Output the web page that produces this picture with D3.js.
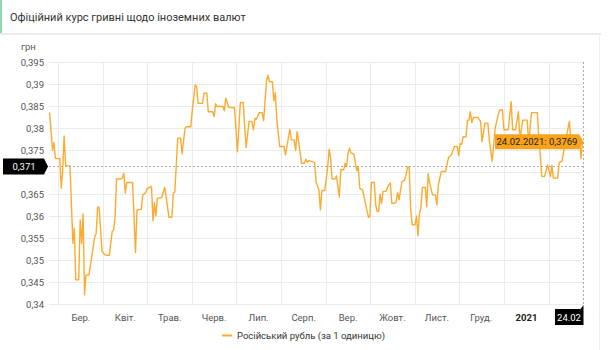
<!DOCTYPE html>
<html>
<head>
<meta charset="utf-8">
<script src="https://cdnjs.cloudflare.com/ajax/libs/d3/7.8.5/d3.min.js"></script>
<style>
  body { margin: 0; background: #fff; }
  svg { font-family: Roboto, "Noto Sans", sans-serif; }
</style>
</head>
<body>
<svg id="chart" width="611" height="350"></svg>
<script>
// rate of the russian rouble (UAH for 1 RUB)
const dates = [
  "2020-02-24","2020-02-26","2020-02-27","2020-02-28","2020-03-02","2020-03-03","2020-03-04","2020-03-05","2020-03-06","2020-03-09",
  "2020-03-11","2020-03-12","2020-03-13","2020-03-15","2020-03-16","2020-03-17","2020-03-18","2020-03-19","2020-03-20","2020-03-22",
  "2020-03-24","2020-03-26","2020-03-27","2020-03-28","2020-03-29","2020-03-31","2020-04-02","2020-04-05","2020-04-07","2020-04-08",
  "2020-04-09","2020-04-10","2020-04-13","2020-04-14","2020-04-15","2020-04-16","2020-04-17","2020-04-21","2020-04-23","2020-04-24",
  "2020-04-27","2020-04-28","2020-04-30","2020-05-01","2020-05-04","2020-05-05","2020-05-06","2020-05-07","2020-05-08","2020-05-11",
  "2020-05-13","2020-05-14","2020-05-16","2020-05-18","2020-05-19","2020-05-20","2020-05-22","2020-05-24","2020-05-25","2020-05-27",
  "2020-05-28","2020-05-31","2020-06-01","2020-06-03","2020-06-04","2020-06-05","2020-06-08","2020-06-09","2020-06-11","2020-06-12",
  "2020-06-15","2020-06-16","2020-06-17","2020-06-18","2020-06-22","2020-06-23","2020-06-24","2020-06-26","2020-06-30","2020-07-02",
  "2020-07-04","2020-07-06","2020-07-07","2020-07-08","2020-07-10","2020-07-12","2020-07-13","2020-07-14","2020-07-15","2020-07-17",
  "2020-07-19","2020-07-20","2020-07-22","2020-07-23","2020-07-24","2020-07-26","2020-07-27","2020-07-28","2020-07-29","2020-07-31",
  "2020-08-03","2020-08-04","2020-08-07","2020-08-08","2020-08-10","2020-08-11","2020-08-12","2020-08-14","2020-08-15","2020-08-17",
  "2020-08-18","2020-08-19","2020-08-20","2020-08-24","2020-08-25","2020-08-27","2020-08-28","2020-08-29","2020-08-31","2020-09-02",
  "2020-09-03","2020-09-04","2020-09-05","2020-09-07","2020-09-08","2020-09-10","2020-09-11","2020-09-13","2020-09-14","2020-09-15",
  "2020-09-16","2020-09-17","2020-09-18","2020-09-20","2020-09-21","2020-09-22","2020-09-23","2020-09-24","2020-09-26","2020-09-28",
  "2020-09-30","2020-10-01","2020-10-02","2020-10-04","2020-10-05","2020-10-06","2020-10-07","2020-10-08","2020-10-09","2020-10-10",
  "2020-10-12","2020-10-14","2020-10-15","2020-10-16","2020-10-18","2020-10-19","2020-10-20","2020-10-21","2020-10-23","2020-10-25",
  "2020-10-27","2020-10-28","2020-10-29","2020-10-30","2020-11-01","2020-11-02","2020-11-03","2020-11-04","2020-11-05","2020-11-06",
  "2020-11-08","2020-11-09","2020-11-10","2020-11-11","2020-11-13","2020-11-15","2020-11-16","2020-11-17","2020-11-19","2020-11-22",
  "2020-11-24","2020-11-26","2020-11-28","2020-11-30","2020-12-01","2020-12-02","2020-12-03","2020-12-04","2020-12-06","2020-12-07",
  "2020-12-08","2020-12-09","2020-12-10","2020-12-11","2020-12-14","2020-12-16","2020-12-17","2020-12-19","2020-12-21","2020-12-22",
  "2020-12-24","2020-12-26","2020-12-29","2020-12-31","2021-01-01","2021-01-04","2021-01-06","2021-01-07","2021-01-09","2021-01-11",
  "2021-01-12","2021-01-14","2021-01-17","2021-01-18","2021-01-20","2021-01-24","2021-01-25","2021-01-26","2021-01-27","2021-01-29",
  "2021-01-31","2021-02-02","2021-02-03","2021-02-04","2021-02-07","2021-02-08","2021-02-10","2021-02-12","2021-02-15","2021-02-16",
  "2021-02-19","2021-02-22","2021-02-23","2021-02-24"
];
const rates = [
  0.3835,0.3750,0.3767,0.3731,0.3730,0.3663,0.3705,0.3782,0.3714,0.3714,
  0.3538,0.3572,0.3455,0.3455,0.3591,0.3538,0.3605,0.3421,0.3466,0.3466,
  0.3508,0.3553,0.3561,0.3620,0.3620,0.3519,0.3512,0.3510,0.3565,0.3568,
  0.3599,0.3684,0.3684,0.3687,0.3697,0.3652,0.3676,0.3676,0.3517,0.3614,
  0.3615,0.3648,0.3653,0.3663,0.3667,0.3589,0.3630,0.3600,0.3640,0.3642,
  0.3665,0.3644,0.3597,0.3597,0.3652,0.3654,0.3777,0.3777,0.3741,0.3799,
  0.3803,0.3803,0.3841,0.3898,0.3893,0.3856,0.3856,0.3879,0.3879,0.3837,
  0.3837,0.3826,0.3855,0.3849,0.3849,0.3839,0.3868,0.3847,0.3846,0.3746,
  0.3858,0.3858,0.3803,0.3756,0.3815,0.3815,0.3796,0.3822,0.3820,0.3835,
  0.3835,0.3817,0.3908,0.3920,0.3905,0.3905,0.3862,0.3880,0.3822,0.3758,
  0.3758,0.3739,0.3797,0.3773,0.3773,0.3749,0.3792,0.3746,0.3720,0.3720,
  0.3729,0.3722,0.3726,0.3722,0.3678,0.3659,0.3614,0.3658,0.3658,0.3712,
  0.3752,0.3731,0.3684,0.3684,0.3691,0.3643,0.3705,0.3705,0.3720,0.3712,
  0.3743,0.3754,0.3743,0.3741,0.3720,0.3703,0.3712,0.3663,0.3659,0.3627,
  0.3597,0.3599,0.3676,0.3676,0.3625,0.3610,0.3611,0.3650,0.3629,0.3656,
  0.3656,0.3671,0.3675,0.3629,0.3629,0.3632,0.3653,0.3637,0.3678,0.3682,
  0.3712,0.3709,0.3614,0.3580,0.3580,0.3600,0.3555,0.3606,0.3618,0.3665,
  0.3665,0.3621,0.3696,0.3675,0.3648,0.3648,0.3625,0.3671,0.3701,0.3701,
  0.3733,0.3739,0.3758,0.3758,0.3737,0.3765,0.3763,0.3780,0.3780,0.3818,
  0.3818,0.3837,0.3812,0.3824,0.3824,0.3815,0.3769,0.3811,0.3811,0.3773,
  0.3724,0.3800,0.3841,0.3841,0.3796,0.3796,0.3860,0.3796,0.3796,0.3837,
  0.3775,0.3818,0.3818,0.3765,0.3835,0.3835,0.3775,0.3739,0.3690,0.3690,
  0.3716,0.3690,0.3715,0.3686,0.3686,0.3722,0.3725,0.3765,0.3815,0.3770,
  0.3772,0.3780,0.3730,0.3769
];
const yTicks = [0.34,0.345,0.35,0.355,0.36,0.365,0.37,0.375,0.38,0.385,0.39,0.395];
const monthLabels = ["Бер.","Квіт.","Трав.","Черв.","Лип.","Серп.","Вер.","Жовт.","Лист.","Груд.","2021"];
const title = "Офіційний курс гривні щодо іноземних валют";
const seriesName = "Російський рубль (за 1 одиницю)";
const cursorValue = 0.371;
const cursorDateLabel = "24.02";

const parse = d3.timeParse("%Y-%m-%d");
const data = dates.map((d, i) => ({ date: parse(d), value: rates[i] }));
const last = data[data.length - 1];

const svg = d3.select("#chart");
const lineColor = "#fdab2f";
const textColor = "#555";
const comma = v => String(v).replace(".", ",");

const x = d3.scaleTime().domain([data[0].date, last.date]).range([49.6, 582.5]);
const y = d3.scaleLinear().domain([0.34, 0.395]).range([304, 62]);

// header card
svg.append("rect").attr("x", 0).attr("y", 33).attr("width", 601).attr("height", 2).attr("fill", "#ececec");
svg.append("rect").attr("x", 0).attr("y", 0).attr("width", 601).attr("height", 33).attr("fill", "#fff");
svg.append("rect").attr("x", 0).attr("y", 0).attr("width", 2).attr("height", 33).attr("fill", "#8ed9b0");
svg.append("text").attr("x", 10).attr("y", 20.5).attr("font-size", 11).attr("fill", "#333").text(title);
svg.append("line").attr("x1", 599.5).attr("x2", 599.5).attr("y1", 36).attr("y2", 350).attr("stroke", "#eee");

const cy = Math.round(y(cursorValue)) - 1.5;
const cx = Math.round(x(last.date)) + 0.5;

// horizontal grid + y labels (the label under the cursor badge is hidden, like in the original)
const g = svg.append("g");
g.selectAll(".hgrid").data(yTicks).join("line")
  .attr("x1", 49).attr("x2", 583)
  .attr("y1", d => Math.round(y(d)) + 0.5).attr("y2", d => Math.round(y(d)) + 0.5)
  .attr("stroke", "#ebebeb");
g.selectAll(".ylab").data(yTicks.filter(d => Math.abs(y(d) - cy) > 9)).join("text")
  .attr("x", 44).attr("y", d => y(d) + 3.5)
  .attr("text-anchor", "end").attr("font-size", 9.5).attr("fill", textColor)
  .text(d => comma(d));
svg.append("text").attr("x", 21).attr("y", 50).attr("font-size", 9.5).attr("fill", textColor).text("грн");

// vertical grid at month starts + labels between them
const months = d3.timeMonth.range(new Date(2020, 2, 1), new Date(2021, 1, 2));
g.selectAll(".vgrid").data(months).join("line")
  .attr("x1", d => Math.round(x(d)) + 0.5).attr("x2", d => Math.round(x(d)) + 0.5)
  .attr("y1", 62).attr("y2", 304)
  .attr("stroke", "#ebebeb");
g.selectAll(".xlab").data(monthLabels).join("text")
  .attr("x", (d, i) => (x(months[i]) + x(months[i + 1])) / 2)
  .attr("y", 321).attr("text-anchor", "middle").attr("font-size", 9.5)
  .attr("fill", (d, i) => i === monthLabels.length - 1 ? "#222" : textColor)
  .attr("font-weight", (d, i) => i === monthLabels.length - 1 ? "bold" : "normal")
  .text(d => d);

// series
const line = d3.line().x(d => x(d.date)).y(d => y(d.value));
svg.append("path").datum(data)
  .attr("d", line).attr("fill", "none")
  .attr("stroke", lineColor).attr("stroke-width", 1.4).attr("stroke-linejoin", "round");

// cursor lines
svg.append("line").attr("x1", 49).attr("x2", 583).attr("y1", cy).attr("y2", cy)
  .attr("stroke", "#aaa").attr("stroke-dasharray", "2,2");
svg.append("line").attr("x1", cx).attr("x2", cx).attr("y1", 62).attr("y2", 304)
  .attr("stroke", "#aaa").attr("stroke-dasharray", "2,2");

// y cursor badge
svg.append("path").attr("d", `M3,${cy - 8}H44L48,${cy}L44,${cy + 8}H3Z`).attr("fill", "#000");
svg.append("text").attr("x", 24).attr("y", cy + 3.5).attr("text-anchor", "middle")
  .attr("font-size", 9.5).attr("fill", "#fff").text(comma(cursorValue));

// x cursor badge
svg.append("path").attr("d", `M555,309H${cx - 3}L${cx},305V325H555Z`).attr("fill", "#000");
svg.append("text").attr("x", 569).attr("y", 321).attr("text-anchor", "middle")
  .attr("font-size", 9.5).attr("fill", "#fff").text(cursorDateLabel);

// tooltip
const ty = y(last.value);
svg.append("path")
  .attr("d", `M495,${ty - 7.5}H579L${cx},${ty}L579,${ty + 7.5}H495Z`)
  .attr("fill", "#f9a31a");
svg.append("text").attr("x", 537).attr("y", ty + 3.5).attr("text-anchor", "middle")
  .attr("font-size", 9.5).attr("fill", "#222")
  .text(`${d3.timeFormat("%d.%m.%Y")(last.date)}: ${comma(last.value)}`);

// legend
svg.append("line").attr("x1", 222).attr("x2", 232).attr("y1", 335.5).attr("y2", 335.5)
  .attr("stroke", lineColor).attr("stroke-width", 2);
svg.append("text").attr("x", 237).attr("y", 339).attr("font-size", 9.5).attr("fill", "#333").text(seriesName);
</script>
</body>
</html>
